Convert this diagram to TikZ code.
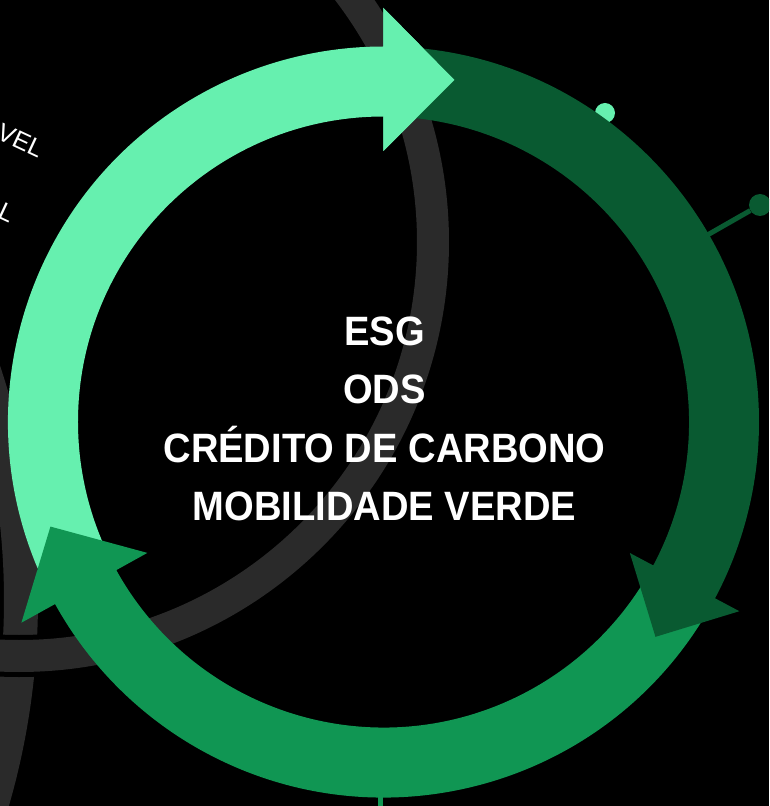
\documentclass[tikz,border=0pt]{standalone}
\usepackage{fontspec}
\setmainfont{Liberation Sans}
\newfontfamily\mainbold{Liberation Sans}[FakeStretch=0.93]
\usetikzlibrary{calc}
\definecolor{lgreen}{HTML}{66F0AF}
\definecolor{dgreen}{HTML}{095A31}
\definecolor{mgreen}{HTML}{109653}
\definecolor{bandgrey}{HTML}{2A2A2A}
\tikzset{
  maintext/.style={text=white, inner sep=0pt, anchor=base,
    font=\mainbold\bfseries\fontsize{41}{41}\selectfont},
  sidetext/.style={text=white, inner sep=0pt, anchor=base east, rotate=-25,
    font=\fontsize{25}{25}\selectfont},
  dotnode/.style={circle, inner sep=0pt, minimum size=#1},
  stem/.style={line width=5pt}
}
\begin{document}
\begin{tikzpicture}[x=1pt,y=1pt]
\useasboundingbox (-383.5,-384) rectangle (385.5,422);
\fill[black] (-383.5,-384) rectangle (385.5,422);
\begin{scope}
\clip (-383.5,-384) rectangle (385.5,422);
% background grey bands
\draw[bandgrey, line width=34] (-1083.5,-178) circle[radius=721];
\draw[black, line width=42] (-364.5,180) circle[radius=414];
\draw[bandgrey, line width=32] (-364.5,180) circle[radius=414];
% side texts
\node[sidetext] (vel) at (-345,263.5) {VEL};
\node[sidetext] (ell) at (-374,199) {L};
% decorations behind ring
\node[dotnode=20pt, fill=lgreen] (dotlight) at (221.5,309) {};
\node[dotnode=22pt, fill=dgreen] (dotdark) at (376.5,217) {};
\coordinate (ringdark) at (30:370);
\draw[stem, dgreen] (ringdark) -- (dotdark);
\coordinate (ringbot) at (-3,-370);
\coordinate (botend) at (-3,-400);
\draw[stem, mgreen] (ringbot) -- (botend);
% tips
\coordinate (lt) at ($(90:342)+(0:71)$);
\coordinate (dt) at ($(-28:341)+(-118:62)$);
\coordinate (mt) at ($(209:342)+(119:70)$);
% light arrow
\fill[lgreen] (209:375.5) arc[start angle=209,end angle=90,radius=375.5]
  -- (90:414) -- (lt) -- (90:271) -- (90:305.5)
  arc[start angle=90,end angle=209,radius=305.5] -- cycle;
% medium arrow
\fill[mgreen] (-28:375.5) arc[start angle=-28,end angle=-151,radius=375.5]
  -- (209:414) -- (mt) -- (209:270) -- (209:305.5)
  arc[start angle=-151,end angle=-28,radius=305.5] -- cycle;
% dark arrow
\fill[dgreen] (89:375.5) arc[start angle=89,end angle=-28,radius=375.5]
  -- (-28:403) -- (dt) -- (-28:279) -- (-28:305.5)
  arc[start angle=-28,end angle=89,radius=305.5] -- cycle;
% light head on top
\fill[lgreen] (90:414) -- (lt) -- (90:271) -- cycle;
% central text
\node[maintext] (esg) at (1,76.5) {ESG};
\node[maintext] (ods) at (1,18.4) {ODS};
\node[maintext] (cred) at (1,-40) {CRÉDITO DE CARBONO};
\node[maintext] (mob) at (1,-98) {MOBILIDADE VERDE};
\end{scope}
\end{tikzpicture}
\end{document}
